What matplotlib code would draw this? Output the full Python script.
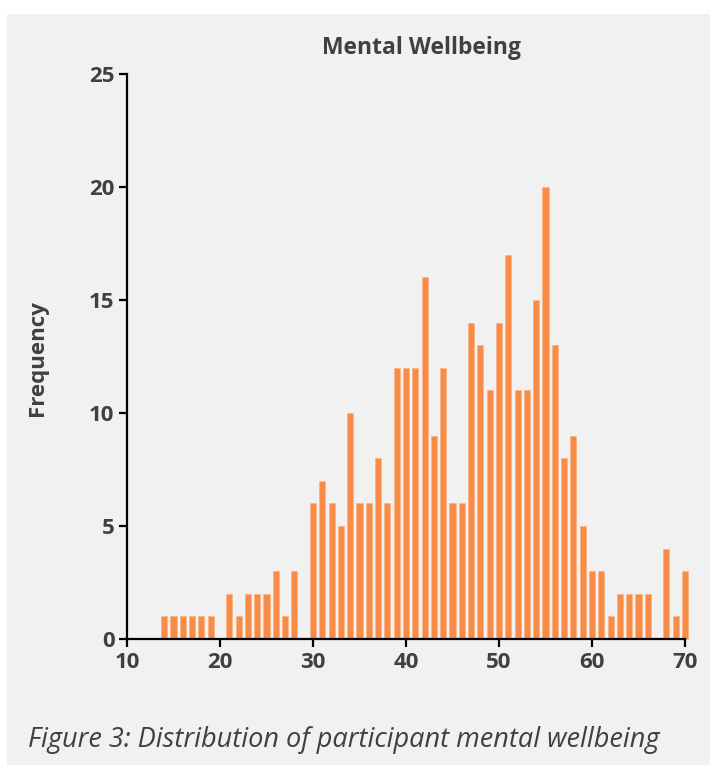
import matplotlib
matplotlib.use("Agg")
import matplotlib.pyplot as plt
from matplotlib.patches import Rectangle

# wellbeing score and number of participants with that score
scores = list(range(14, 71))
counts = [
    1, 1, 1, 1, 1, 1, 0, 2, 1, 2, 2, 2, 3, 1, 3, 0,
    6, 7, 6, 5, 10, 6, 6, 8, 6, 12, 12, 12, 16, 9, 12, 6, 6,
    14, 13, 11, 14, 17, 11, 11, 15, 20, 13, 8, 9, 5,
    3, 3, 1, 2, 2, 2, 2, 0, 4, 1, 3,
]
x_ticks = [10, 20, 30, 40, 50, 60, 70]
y_ticks = [0, 5, 10, 15, 20, 25]

TEXT = "#404040"
BAR = "#F88C47"
PANEL = "#F1F1F1"

plt.rcParams["font.family"] = ["Open Sans", "DejaVu Sans"]

fig = plt.figure(figsize=(7.1, 7.65), dpi=100)
fig.patch.set_facecolor("white")
fig.add_artist(Rectangle((7 / 710, 0), 1, (765 - 14) / 765,
                         transform=fig.transFigure, facecolor=PANEL,
                         edgecolor="none", zorder=-10))

ax = fig.add_axes([127 / 710, 126 / 765, 558 / 710, 565 / 765])
ax.set_facecolor("none")

ax.bar(scores, counts, width=0.66, color=BAR, edgecolor="#FBB585",
       linewidth=0.6, clip_on=False)

ax.set_xlim(10, 70)
ax.set_ylim(0, 25)
ax.set_xticks(x_ticks)
ax.set_yticks(y_ticks)

for side in ["top", "right"]:
    ax.spines[side].set_visible(False)
for side in ["left", "bottom"]:
    ax.spines[side].set_linewidth(1.6)
    ax.spines[side].set_color("black")

ax.tick_params(axis="both", direction="out", length=6, width=1.6,
               color="black", labelcolor=TEXT, labelsize=16, pad=3)
for lab in ax.get_xticklabels() + ax.get_yticklabels():
    lab.set_fontweight("bold")

fig.text(38 / 710, 1 - 358 / 765, "Frequency", rotation=90, ha="center",
         va="center", fontsize=16, fontweight="bold", color=TEXT)
fig.text(421 / 710, 1 - 48 / 765, "Mental Wellbeing", ha="center",
         va="center", fontsize=16.5, fontweight="bold", color=TEXT)
fig.text(28 / 710, 1 - 740 / 765,
         "Figure 3: Distribution of participant mental wellbeing",
         ha="left", va="center", fontsize=19.5, style="italic", color=TEXT)

fig.savefig("out.png", dpi=100, facecolor=fig.get_facecolor())
